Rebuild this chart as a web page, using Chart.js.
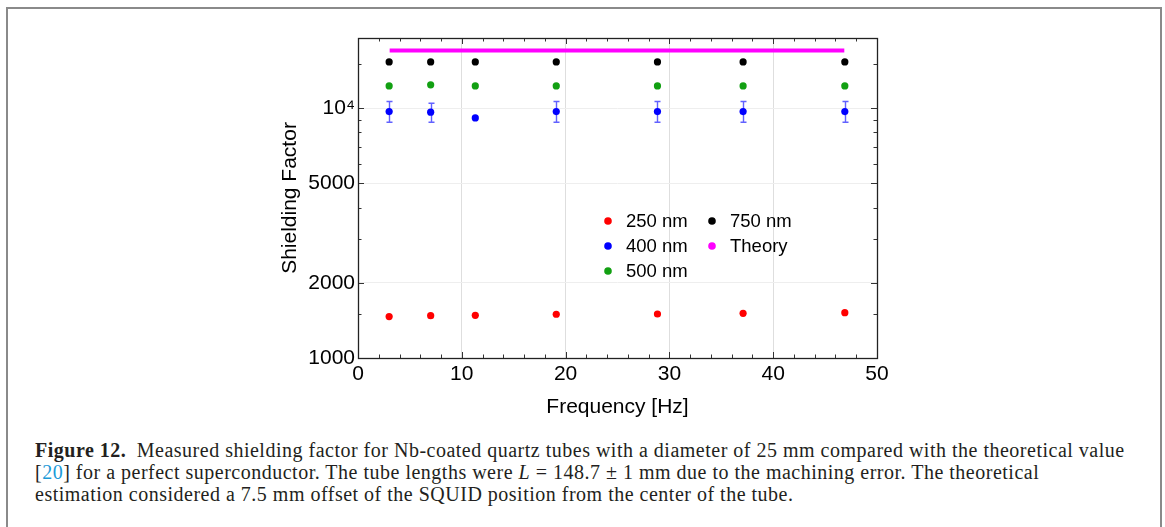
<!DOCTYPE html>
<html><head><meta charset="utf-8">
<script src="https://cdn.jsdelivr.net/npm/chart.js@4.4.0/dist/chart.umd.min.js"></script>
<style>
html,body{margin:0;padding:0;background:#fff;width:1165px;height:527px;overflow:hidden;}
#frame{position:absolute;left:6px;top:7px;width:1156px;height:560px;box-sizing:border-box;border:2px solid #8a8a8a;border-bottom:none;}
#chart{position:absolute;left:0;top:0;}
.cap{position:absolute;left:35px;font-family:"Liberation Serif","Times New Roman",serif;font-size:20px;letter-spacing:0.5px;color:#231f20;white-space:nowrap;line-height:22px;}
.ref{color:#1b9ad8;}
</style></head><body>
<div id="frame"></div>
<canvas id="chart" width="1165" height="430"></canvas>
<div class="cap" style="top:439px"><b>Figure 12.</b>&ensp;Measured shielding factor for Nb-coated quartz tubes with a diameter of 25 mm compared with the theoretical value</div>
<div class="cap" style="top:461px">[<span class="ref">20</span>] for a perfect superconductor. The tube lengths were <i>L</i> = 148.7 ± 1 mm due to the machining error. The theoretical</div>
<div class="cap" style="top:483px">estimation considered a 7.5 mm offset of the SQUID position from the center of the tube.</div>
<script>
const freq = [3.0, 7.0, 11.3, 19.1, 28.85, 37.1, 46.9];
const sf250 = [1465, 1477, 1482, 1497, 1500, 1510, 1518];
const sf400 = [9690, 9640, 9145, 9690, 9690, 9690, 9690];
const sf400Lo = [8790, 8790, null, 8790, 8790, 8790, 8790];
const sf400Hi = [10630, 10470, null, 10630, 10630, 10630, 10630];
const sf500 = [12280, 12400, 12280, 12280, 12280, 12280, 12280];
const sf750 = [15320, 15320, 15320, 15320, 15320, 15320, 15320];
const theoryFreq = [3.05, 46.85];
const theoryValue = [17020, 17020];
const seriesLabels = ['250 nm', '400 nm', '500 nm', '750 nm', 'Theory'];
const seriesColors = ['#ff0000', '#0000ff', '#12a012', '#000000', '#ff00ff'];
const xMajorTicks = [0, 10, 20, 30, 40, 50];
const xMinorTicks = [2, 4, 6, 8, 12, 14, 16, 18, 22, 24, 26, 28, 32, 34, 36, 38, 42, 44, 46, 48];
const yMajorTicks = [1000, 2000, 5000, 10000];
const yTickLabels = ['1000', '2000', '5000', '10\u2074'];
const yMinorTicks = [1500, 3000, 4000, 6000, 7000, 8000, 9000, 15000];

const pts = (xs, ys) => xs.map((x, i) => ({x: x, y: ys[i]}));

Chart.defaults.font.family = '"Liberation Sans", Arial, sans-serif';
Chart.defaults.font.size = 21;
Chart.defaults.color = '#000';

const decor = {
  id: 'decor',
  beforeDatasetsDraw(chart) {
    const {ctx, scales: {x, y}} = chart;
    ctx.save();
    ctx.strokeStyle = 'rgba(30,30,255,0.7)';
    ctx.lineWidth = 1.4;
    freq.forEach((f, i) => {
      if (sf400Lo[i] == null) return;
      const px = Math.round(x.getPixelForValue(f)) + 0.5;
      const yt = y.getPixelForValue(sf400Hi[i]);
      const yb = y.getPixelForValue(sf400Lo[i]);
      ctx.beginPath();
      ctx.moveTo(px, yt); ctx.lineTo(px, yb);
      ctx.moveTo(px - 3, yt); ctx.lineTo(px + 3, yt);
      ctx.moveTo(px - 3, yb); ctx.lineTo(px + 3, yb);
      ctx.stroke();
    });
    ctx.restore();
  },
  afterDraw(chart) {
    const {ctx, chartArea: a, scales: {x, y}} = chart;
    ctx.save();
    ctx.strokeStyle = '#333';
    ctx.lineWidth = 1;
    const tick = (list, len) => {
      list.forEach(v => {
        const px = Math.round(x.getPixelForValue(v)) + 0.5;
        ctx.beginPath();
        ctx.moveTo(px, a.bottom); ctx.lineTo(px, a.bottom - len);
        ctx.moveTo(px, a.top); ctx.lineTo(px, a.top + len);
        ctx.stroke();
      });
    };
    const ytick = (list, len) => {
      list.forEach(v => {
        const py = Math.round(y.getPixelForValue(v)) + 0.5;
        ctx.beginPath();
        ctx.moveTo(a.left, py); ctx.lineTo(a.left + len, py);
        ctx.moveTo(a.right, py); ctx.lineTo(a.right - len, py);
        ctx.stroke();
      });
    };
    tick(xMajorTicks, 6); tick(xMinorTicks, 3.5);
    ytick(yMajorTicks, 6); ytick(yMinorTicks, 3.5);
    ctx.strokeStyle = '#222';
    ctx.lineWidth = 1.3;
    ctx.strokeRect(Math.round(a.left) + 0.5, Math.round(a.top) + 0.5, Math.round(a.right - a.left), Math.round(a.bottom - a.top));
    // legend (column-major, 3 rows)
    ctx.font = '18.5px "Liberation Sans", Arial, sans-serif';
    ctx.textBaseline = 'middle';
    ctx.textAlign = 'left';
    chart.data.datasets.forEach((ds, i) => {
      const col = Math.floor(i / 3), row = i % 3;
      const dx = a.left + 250 + col * 104;
      const dy = a.top + 183 + row * 25;
      ctx.fillStyle = ds.backgroundColor;
      ctx.beginPath(); ctx.arc(dx, dy, 3.8, 0, Math.PI * 2); ctx.fill();
      ctx.fillStyle = '#000';
      ctx.fillText(ds.label, dx + 18, dy + 1);
    });
    ctx.restore();
  }
};

const mk = (i, data) => ({
  label: seriesLabels[i], data: data,
  backgroundColor: seriesColors[i], borderColor: seriesColors[i],
  pointRadius: 3.6, pointBorderWidth: 0, pointHoverRadius: 3.6, showLine: false
});

new Chart(document.getElementById('chart'), {
  type: 'scatter',
  data: {
    datasets: [
      mk(0, pts(freq, sf250)),
      mk(1, pts(freq, sf400)),
      mk(2, pts(freq, sf500)),
      mk(3, pts(freq, sf750)),
      {label: seriesLabels[4], data: pts(theoryFreq, theoryValue), showLine: true,
       borderColor: seriesColors[4], backgroundColor: seriesColors[4], borderWidth: 4,
       pointRadius: 0, borderCapStyle: 'butt'}
    ]
  },
  options: {
    responsive: false, animation: false, devicePixelRatio: 1, events: [],
    layout: {padding: {left: 270, right: 288, top: 38, bottom: 10}},
    plugins: {legend: {display: false}, tooltip: {enabled: false}},
    scales: {
      x: {
        type: 'linear', min: 0, max: 50,
        afterFit: s => { s.height = 62; },
        afterBuildTicks: s => { s.ticks = xMajorTicks.map(v => ({value: v})); },
        ticks: {padding: 4, autoSkip: false, maxRotation: 0},
        grid: {drawTicks: false, color: c => (c.tick && (c.tick.value === 0 || c.tick.value === 50)) ? 'rgba(0,0,0,0)' : '#dedede'},
        border: {display: false},
        title: {display: true, text: 'Frequency [Hz]', padding: {top: 0, bottom: 0}}
      },
      y: {
        type: 'logarithmic', min: 1000, max: 19100,
        afterFit: s => { s.width = 88; },
        afterBuildTicks: s => { s.ticks = yMajorTicks.map(v => ({value: v})); },
        ticks: {padding: 3, autoSkip: false, callback: v => { const i = yMajorTicks.indexOf(v); return i >= 0 ? yTickLabels[i] : ''; }},
        grid: {drawTicks: false, color: '#eeeeee'},
        border: {display: false},
        title: {display: true, text: 'Shielding Factor', padding: {top: 8, bottom: 0}}
      }
    }
  },
  plugins: [decor]
});
</script>
</body></html>
